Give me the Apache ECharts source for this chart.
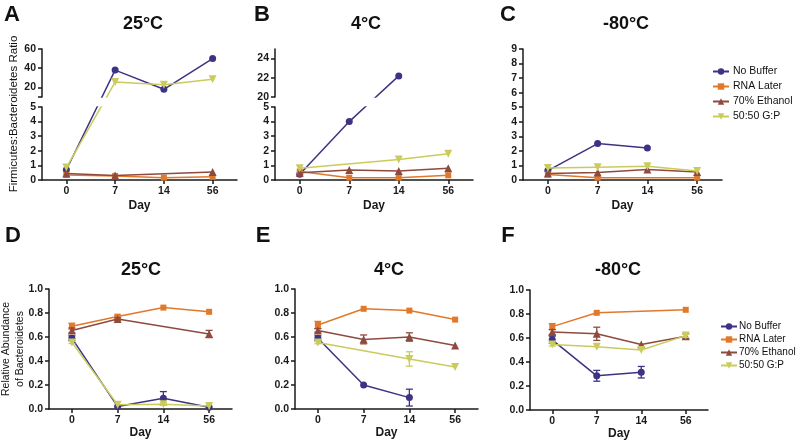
<!DOCTYPE html>
<html><head><meta charset="utf-8">
<script src="https://cdn.jsdelivr.net/npm/echarts@6/dist/echarts.min.js"></script>
<style>html,body{margin:0;padding:0;background:#fff}#c{width:797px;height:440px}</style>
</head><body><div id="c"></div>
<script>
// ---------- data ----------
const days = ['0', '7', '14', '56'];
const groupNames = ['No Buffer', 'RNA Later', '70% Ethanol', '50:50 G:P'];

// Firmicutes:Bacteroidetes ratio (A 25°C, B 4°C, C -80°C)
const ratio25NoBuffer = [0.7, 38, 18, 50];
const ratio25RnaLater = [0.35, 0.28, 0.16, 0.22];
const ratio25Ethanol  = [0.45, 0.3, null, 0.55];
const ratio25GP       = [0.85, 25.5, 22.8, 28.5];

const ratio4NoBuffer = [0.4, 4.0, 22.2, null];
const ratio4RnaLater = [0.58, 0.16, 0.16, 0.32];
const ratio4Ethanol  = [0.5, 0.68, 0.62, 0.8];
const ratio4GP       = [0.8, null, 1.4, 1.8];

const ratio80NoBuffer = [0.65, 2.5, 2.2, null];
const ratio80RnaLater = [0.38, 0.16, null, 0.16];
const ratio80Ethanol  = [0.45, 0.52, 0.72, 0.55];
const ratio80GP       = [0.82, 0.88, 0.95, 0.62];

// Relative abundance of Bacteroidetes (D 25°C, E 4°C, F -80°C): means and SD
const abund25NoBuffer = [0.59, 0.02, 0.09, 0.015];
const abund25NoBufferSD = [0.02, 0, 0.055, 0];
const abund25RnaLater = [0.69, 0.77, 0.845, 0.81];
const abund25RnaLaterSD = [0.025, 0.012, 0, 0];
const abund25Ethanol  = [0.655, 0.75, null, 0.625];
const abund25EthanolSD  = [0.02, 0.01, 0, 0.03];
const abund25GP       = [0.555, 0.035, 0.04, 0.025];
const abund25GPSD       = [0.01, 0, 0.01, 0];

const abund4NoBuffer = [0.59, 0.2, 0.095, null];
const abund4NoBufferSD = [0.02, 0, 0.07, 0];
const abund4RnaLater = [0.70, 0.835, 0.82, 0.745];
const abund4RnaLaterSD = [0.03, 0, 0, 0];
const abund4Ethanol  = [0.655, 0.58, 0.60, 0.53];
const abund4EthanolSD  = [0.015, 0.037, 0.035, 0];
const abund4GP       = [0.554, null, 0.417, 0.35];
const abund4GPSD       = [0.01, 0, 0.06, 0];

const abund80NoBuffer = [0.585, 0.285, 0.315, null];
const abund80NoBufferSD = [0.03, 0.045, 0.048, 0];
const abund80RnaLater = [0.695, 0.81, null, 0.835];
const abund80RnaLaterSD = [0.025, 0, 0, 0];
const abund80Ethanol  = [0.65, 0.635, 0.545, 0.615];
const abund80EthanolSD  = [0.02, 0.055, 0, 0.02];
const abund80GP       = [0.545, 0.528, 0.50, 0.62];
const abund80GPSD       = [0.012, 0, 0, 0.015];

// tick labels
const ratioLowerTicks = [0, 1, 2, 3, 4, 5];
const ratioAUpperTicks = [20, 40, 60];
const ratioBUpperTicks = [20, 22, 24];
const ratioCTicks = [0, 1, 2, 3, 4, 5, 6, 7, 8, 9];
const abundTicks = [0, 0.2, 0.4, 0.6, 0.8, 1.0];

const panelTitles = ['25°C', '4°C', '-80°C', '25°C', '4°C', '-80°C'];
const panelLetters = ['A', 'B', 'C', 'D', 'E', 'F'];
const ratioAxisName = 'Firmicutes:Bacteroidetes Ratio';
const abundAxisName = 'Relative Abundance\nof Bacteroidetes';
const xAxisName = 'Day';

// ---------- styles / layout ----------
const FONT = '"Liberation Sans", Arial, sans-serif';
const groupColors = ['#3d3384', '#e2782a', '#8f4a3e', '#c9cc5c'];
const groupSymbols = ['circle', 'rect', 'triangle', 'triangle'];
const groupRotate = [0, 0, 0, 180];
const groupSymSize = [7, 6, 8, 8];
const axisColor = '#1a1a1a';
const tickFont = 10.5;

const POS = {
  A: {left: 42, right: 237, top: 49, upBottom: 97, lowTop: 107, bottom: 180},
  B: {left: 275, right: 473, top: 49, upBottom: 97, lowTop: 107, bottom: 180},
  C: {left: 523, right: 722, top: 49, bottom: 180},
  D: {left: 49, right: 232, top: 289, bottom: 409},
  E: {left: 295, right: 478, top: 289, bottom: 409},
  F: {left: 530, right: 708, top: 290, bottom: 410}
};

const grids = [], xAxes = [], yAxes = [], series = [];

function axisLine() { return {show: true, onZero: false, lineStyle: {color: axisColor, width: 1.5}}; }
function labelStyle(extra) {
  return Object.assign({color: axisColor, fontSize: tickFont, fontWeight: 'bold', fontFamily: FONT}, extra || {});
}
function addGrid(rect, xOpt, yOpt) {
  const gi = grids.length;
  grids.push({left: rect.left, top: rect.top, width: rect.right - rect.left,
    height: rect.bottom - rect.top, containLabel: false, outerBoundsMode: 'none'});
  xAxes.push(Object.assign({gridIndex: gi}, xOpt));
  yAxes.push(Object.assign({gridIndex: gi}, yOpt));
  return gi;
}
function xAxisOpt(showIt, nameGap) {
  if (!showIt) return {type: 'category', data: days, boundaryGap: true, show: false};
  return {
    type: 'category', data: days, boundaryGap: true,
    axisLine: axisLine(),
    axisTick: {show: true, alignWithLabel: true, length: 4, lineStyle: {color: axisColor, width: 1.5}},
    axisLabel: labelStyle({margin: 6}),
    splitLine: {show: false},
    name: xAxisName, nameLocation: 'middle', nameGap: nameGap,
    nameTextStyle: {color: axisColor, fontSize: 12, fontWeight: 'bold', fontFamily: FONT}
  };
}
function yTickAxis(ticks, fmt) {
  const step = ticks[1] - ticks[0];
  return {
    type: 'value', min: ticks[0], max: ticks[ticks.length - 1], interval: step,
    axisLine: axisLine(),
    axisTick: {show: true, length: 4, lineStyle: {color: axisColor, width: 1.5}},
    axisLabel: labelStyle({margin: 6, formatter: fmt}),
    splitLine: {show: false}
  };
}
function lineSeries(gi, k, data) {
  const c = groupColors[k];
  return {
    type: 'line', name: groupNames[k], xAxisIndex: gi, yAxisIndex: gi, data: data,
    connectNulls: true, symbol: groupSymbols[k], symbolSize: groupSymSize[k],
    symbolRotate: groupRotate[k], showAllSymbol: true, clip: true,
    lineStyle: {color: c, width: 1.5}, itemStyle: {color: c},
    emphasis: {disabled: true}, animation: false, z: 3 + k
  };
}
function errSeries(gi, k, mean, sd) {
  const rows = [];
  mean.forEach((m, i) => { if (m != null && sd[i] > 0) rows.push([i, m - sd[i], m + sd[i]]); });
  const c = groupColors[k];
  return {
    type: 'custom', name: groupNames[k] + ' SD', xAxisIndex: gi, yAxisIndex: gi, data: rows,
    silent: true, animation: false, z: 3 + k,
    renderItem: function (params, api) {
      const x = api.value(0);
      const lo = api.coord([x, api.value(1)]);
      const hi = api.coord([x, api.value(2)]);
      const w = 3.5, st = {stroke: c, lineWidth: 1.3};
      return {type: 'group', children: [
        {type: 'line', shape: {x1: lo[0], y1: lo[1], x2: hi[0], y2: hi[1]}, style: st},
        {type: 'line', shape: {x1: lo[0] - w, y1: lo[1], x2: lo[0] + w, y2: lo[1]}, style: st},
        {type: 'line', shape: {x1: hi[0] - w, y1: hi[1], x2: hi[0] + w, y2: hi[1]}, style: st}
      ]};
    }
  };
}

// broken-axis panel: lower segment [0, lowMax] and upper segment [upMin, upMax]
function breakPanel(p, lowMax, upMin, upMax, upTicks, upLabels, dataSets) {
  const lowPx = p.bottom - p.lowTop, gapPx = p.lowTop - p.upBottom, upPx = p.upBottom - p.top;
  const k = lowPx / lowMax;
  const t = v => {
    if (v == null) return null;
    if (v <= lowMax) return v;
    if (v >= upMin) return lowMax + (gapPx + (v - upMin) * upPx / (upMax - upMin)) / k;
    return lowMax + (v - lowMax) / (upMin - lowMax) * gapPx / k;
  };
  const lo = addGrid({left: p.left, right: p.right, top: p.lowTop, bottom: p.bottom},
    xAxisOpt(true, 20), yTickAxis(ratioLowerTicks));
  const labelMap = upLabels.map(v => [t(v), String(v)]);
  const up = addGrid({left: p.left, right: p.right, top: p.top, bottom: p.upBottom},
    xAxisOpt(false), {
      type: 'value', min: t(upMin), max: t(upMax),
      axisLine: axisLine(),
      axisTick: {show: true, length: 4, customValues: upTicks.map(t), lineStyle: {color: axisColor, width: 1.5}},
      axisLabel: labelStyle({margin: 6, customValues: upLabels.map(t), formatter: function (v) {
        let best = '', d = 1e9;
        labelMap.forEach(([tv, s]) => { if (Math.abs(tv - v) < d) { d = Math.abs(tv - v); best = s; } });
        return best;
      }}),
      splitLine: {show: false}
    });
  dataSets.forEach((d, i) => {
    const td = d.map(t);
    series.push(lineSeries(lo, i, td));
    series.push(lineSeries(up, i, td));
  });
}

breakPanel(POS.A, 5, 10, 60, [10, 20, 40, 60], ratioAUpperTicks,
  [ratio25NoBuffer, ratio25RnaLater, ratio25Ethanol, ratio25GP]);
breakPanel(POS.B, 5, 20, 25, [20, 22, 24], ratioBUpperTicks,
  [ratio4NoBuffer, ratio4RnaLater, ratio4Ethanol, ratio4GP]);

// panel C
(function () {
  const gi = addGrid(POS.C, xAxisOpt(true, 20), yTickAxis(ratioCTicks));
  [ratio80NoBuffer, ratio80RnaLater, ratio80Ethanol, ratio80GP].forEach((d, i) => series.push(lineSeries(gi, i, d)));
})();

// panels D, E, F
function abundPanel(p, means, sds) {
  const gi = addGrid(p, xAxisOpt(true, 13), yTickAxis(abundTicks, v => v.toFixed(1)));
  means.forEach((m, i) => {
    series.push(errSeries(gi, i, m, sds[i]));
    series.push(lineSeries(gi, i, m));
  });
}
abundPanel(POS.D, [abund25NoBuffer, abund25RnaLater, abund25Ethanol, abund25GP],
  [abund25NoBufferSD, abund25RnaLaterSD, abund25EthanolSD, abund25GPSD]);
abundPanel(POS.E, [abund4NoBuffer, abund4RnaLater, abund4Ethanol, abund4GP],
  [abund4NoBufferSD, abund4RnaLaterSD, abund4EthanolSD, abund4GPSD]);
abundPanel(POS.F, [abund80NoBuffer, abund80RnaLater, abund80Ethanol, abund80GP],
  [abund80NoBufferSD, abund80RnaLaterSD, abund80EthanolSD, abund80GPSD]);

// ---------- texts ----------
const titlePos = [[143, 24], [366, 24], [626, 24], [141, 270], [389, 270], [618, 270]];
const letterPos = [[12, 15], [262, 15], [508, 15], [13, 236], [263, 236], [508, 236]];
const graphic = [];
panelTitles.forEach((s, i) => graphic.push({type: 'text', x: titlePos[i][0], y: titlePos[i][1], silent: true,
  style: {text: s, fill: '#111', font: 'bold 18px ' + FONT, align: 'center', verticalAlign: 'middle'}}));
panelLetters.forEach((s, i) => graphic.push({type: 'text', x: letterPos[i][0], y: letterPos[i][1], silent: true,
  style: {text: s, fill: '#111', font: 'bold 22px ' + FONT, align: 'center', verticalAlign: 'middle'}}));
graphic.push({type: 'text', x: 14, y: 114, rotation: Math.PI / 2, silent: true,
  style: {text: ratioAxisName, fill: '#111', font: '11.5px ' + FONT, align: 'center', verticalAlign: 'middle'}});
graphic.push({type: 'text', x: 13, y: 349, rotation: Math.PI / 2, silent: true,
  style: {text: abundAxisName, fill: '#111', font: '10.5px ' + FONT, lineHeight: 14, align: 'center', verticalAlign: 'middle'}});

const legendBase = {
  data: groupNames, orient: 'vertical', itemWidth: 16, itemHeight: 8,
  selectedMode: false, padding: 0, width: 120
};
const option = {
  animation: false,
  backgroundColor: '#fff',
  grid: grids, xAxis: xAxes, yAxis: yAxes, series: series, graphic: graphic,
  legend: [
    Object.assign({}, legendBase, {left: 712, top: 66, itemGap: 4,
      textStyle: {fontSize: 10.5, fontFamily: FONT, color: '#111', lineHeight: 11, padding: [0, 0, 0, -1]}}),
    Object.assign({}, legendBase, {left: 720, top: 321, itemGap: 2,
      textStyle: {fontSize: 10, fontFamily: FONT, color: '#111', lineHeight: 11, padding: [0, 0, 0, -3]}})
  ]
};
const chart = echarts.init(document.getElementById('c'), null, {renderer: 'canvas'});
chart.setOption(option);
</script>
</body></html>
